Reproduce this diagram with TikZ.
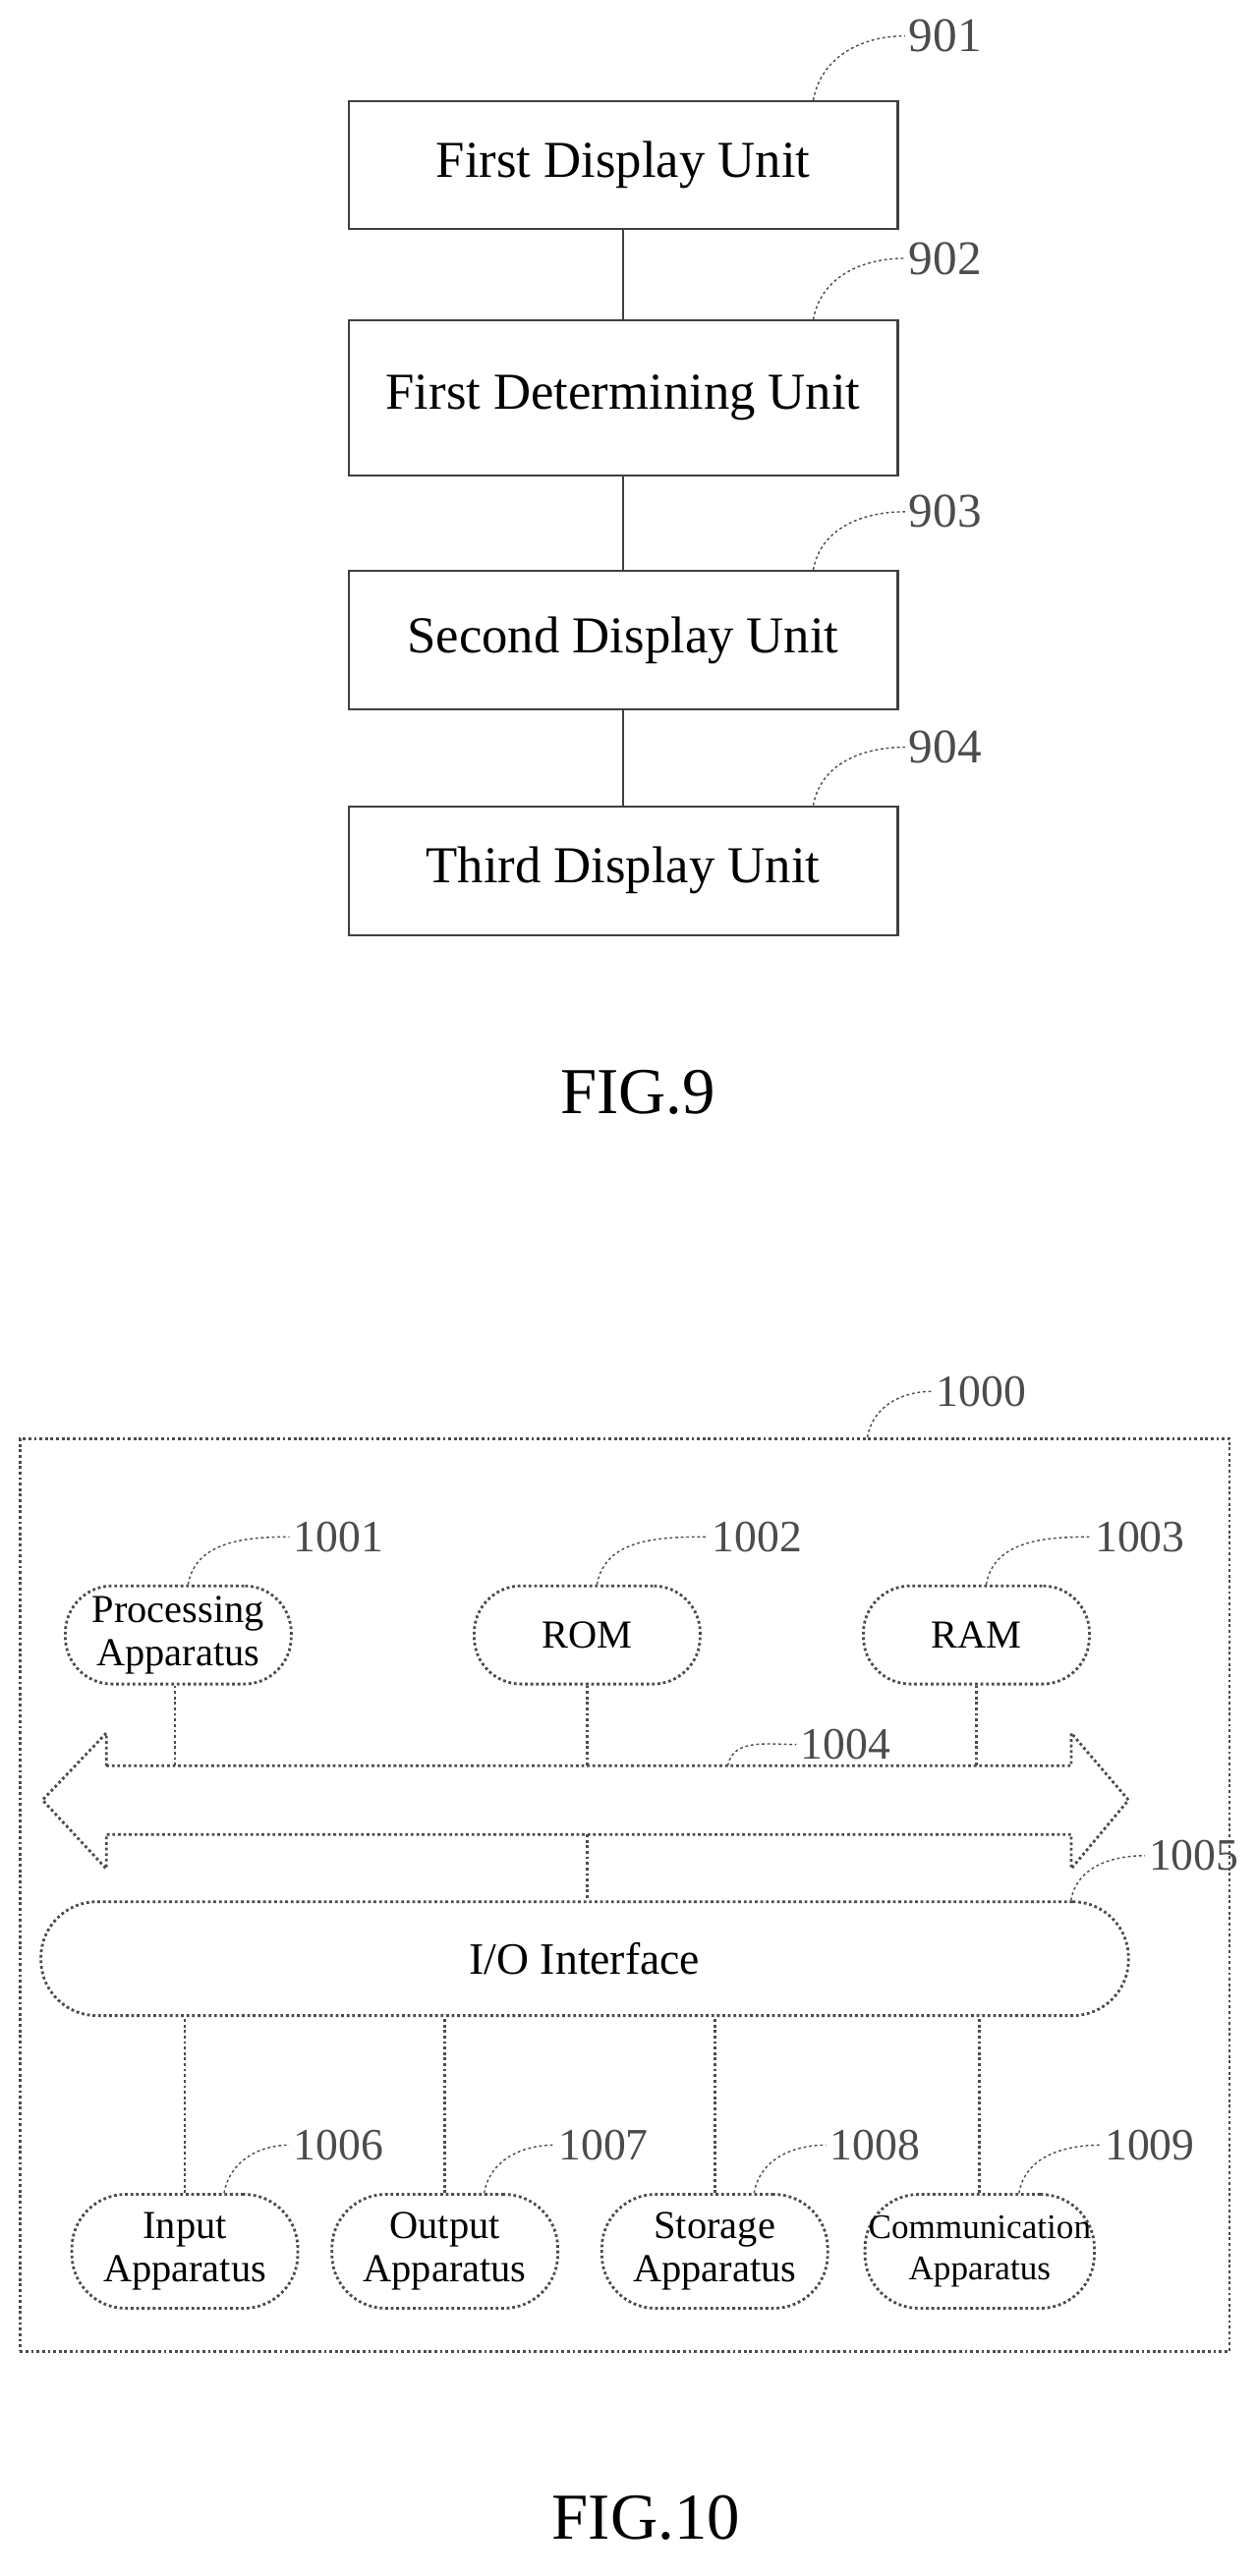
\documentclass[tikz,border=0pt]{standalone}
\usepackage{fontspec}
\setmainfont{Liberation Serif}
\usetikzlibrary{positioning}
\tikzset{
  unit/.style={draw=black!75, semithick, minimum width=5.59cm, font=\fontsize{15}{17}\selectfont},
  dots/.style={draw=black!70, dash pattern=on 0.8pt off 0.8pt, thick},
  pill/.style={dots, rounded corners=0.48cm, minimum width=2.3cm, minimum height=1.0cm, align=center, inner sep=1pt, font=\fontsize{11.5}{12.5}\selectfont},
  lead/.style={dots, thin},
  num/.style={text=black!70, font=\fontsize{13}{14}\selectfont, inner sep=1pt}
}
\begin{document}
\begin{tikzpicture}[x=0.01664cm, y=-0.01664cm]
\useasboundingbox (0,0) rectangle (768,1575.6);
% FIG.9
\node[unit, minimum height=1.3cm] (u1) at (381,101) {First Display Unit};
\node[unit, minimum height=1.58cm] (u2) at (381,243.5) {First Determining Unit};
\node[unit, minimum height=1.41cm] (u3) at (381,391.5) {Second Display Unit};
\node[unit, minimum height=1.31cm] (u4) at (381,532.5) {Third Display Unit};
\draw[black!75] (u1) -- (u2);
\draw[black!75] (u2) -- (u3);
\draw[black!75] (u3) -- (u4);
\node[num, font=\fontsize{14}{16}\selectfont] (n901) at (578,22) {901};
\node[num, font=\fontsize{14}{16}\selectfont] (n902) at (578,158) {902};
\node[num, font=\fontsize{14}{16}\selectfont] (n903) at (578,313) {903};
\node[num, font=\fontsize{14}{16}\selectfont] (n904) at (578,457) {904};
\draw[lead] ([xshift=-0.87cm]u1.north east) to[out=80, in=180] (n901.west);
\draw[lead] ([xshift=-0.87cm]u2.north east) to[out=80, in=180] (n902.west);
\draw[lead] ([xshift=-0.87cm]u3.north east) to[out=80, in=180] (n903.west);
\draw[lead] ([xshift=-0.87cm]u4.north east) to[out=80, in=180] (n904.west);
\node[font=\fontsize{19}{22}\selectfont] (fig9) at (390,668) {FIG.9};

% FIG.10
\node[dots, minimum width=12.31cm, minimum height=9.29cm] (dev) at (382,1159) {};
\node[num] (n1000) at (600,851) {1000};
\draw[lead] ([xshift=-3.7cm]dev.north east) to[out=80, in=180] (n1000.west);

\node[pill] (cpu) at (109,1000) {Processing\\Apparatus};
\node[pill] (rom) at (359,1000) {ROM};
\node[pill] (ram) at (597,1000) {RAM};
\node[num] (n1001) at (207,940) {1001};
\node[num] (n1002) at (463,940) {1002};
\node[num] (n1003) at (697,940) {1003};
\draw[lead] ([xshift=0.1cm]cpu.north) to[out=80, in=180] (n1001.west);
\draw[lead] ([xshift=0.1cm]rom.north) to[out=80, in=180] (n1002.west);
\draw[lead] ([xshift=0.1cm]ram.north) to[out=80, in=180] (n1003.west);

% bus
\draw[dots] (65,1080) -- (655,1080) -- (655,1060) -- (690,1101) -- (655,1143)
  -- (655,1122) -- (65,1122) -- (65,1143) -- (26,1101) -- (65,1060) -- cycle;
\coordinate (b1) at (107,1080);
\coordinate (b2) at (359,1080);
\coordinate (b3) at (597,1080);
\coordinate (b4) at (359,1122);
\coordinate (b5) at (445,1080);
\draw[dots] (cpu.south -| b1) -- (b1);
\draw[dots] (rom) -- (b2);
\draw[dots] (ram) -- (b3);
\node[num] (n1004) at (517,1067) {1004};
\draw[lead] (b5) to[out=80, in=180] (n1004.west);

\node[pill, minimum width=11.07cm, minimum height=1.16cm, rounded corners=0.57cm,
  font=\fontsize{13}{15}\selectfont] (io) at (357.5,1198) {I/O Interface};
\draw[dots] (b4) -- (b4 |- io.north);
\node[num] (n1005) at (730,1135) {1005};
\draw[lead] ([xshift=-0.6cm]io.north east) to[out=80, in=180] (n1005.west);

\node[pill, minimum height=1.16cm, rounded corners=0.55cm] (inp) at (113,1377) {Input\\Apparatus};
\node[pill, minimum height=1.16cm, rounded corners=0.55cm] (outp) at (272,1377) {Output\\Apparatus};
\node[pill, minimum height=1.16cm, rounded corners=0.55cm] (stor) at (437,1377) {Storage\\Apparatus};
\node[pill, minimum height=1.16cm, rounded corners=0.55cm, font=\fontsize{10}{12}\selectfont] (comm) at (599,1377) {Communication\\Apparatus};
\foreach \n in {inp, outp, stor, comm}
  \draw[dots] (\n) -- (\n |- io.south);
\node[num] (n1006) at (207,1312) {1006};
\node[num] (n1007) at (369,1312) {1007};
\node[num] (n1008) at (535,1312) {1008};
\node[num] (n1009) at (703,1312) {1009};
\draw[lead] ([xshift=0.4cm]inp.north) to[out=80, in=180] (n1006.west);
\draw[lead] ([xshift=0.4cm]outp.north) to[out=80, in=180] (n1007.west);
\draw[lead] ([xshift=0.4cm]stor.north) to[out=80, in=180] (n1008.west);
\draw[lead] ([xshift=0.4cm]comm.north) to[out=80, in=180] (n1009.west);
\node[font=\fontsize{19}{22}\selectfont] (fig10) at (395,1540) {FIG.10};
\end{tikzpicture}
\end{document}
